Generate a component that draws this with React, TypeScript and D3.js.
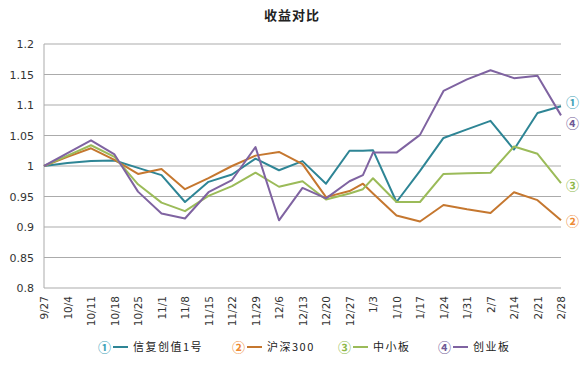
import React from "react";
import * as d3 from "d3";

const dates = [
  "2012-09-27", "2012-10-04", "2012-10-11", "2012-10-18", "2012-10-25", "2012-11-01",
  "2012-11-08", "2012-11-15", "2012-11-22", "2012-11-29", "2012-12-06", "2012-12-13",
  "2012-12-20", "2012-12-27", "2012-12-31", "2013-01-03", "2013-01-10", "2013-01-17",
  "2013-01-24", "2013-01-31", "2013-02-07", "2013-02-14", "2013-02-21", "2013-02-28",
];
const tickDates = dates.filter((d) => d !== "2012-12-31");
const tickLabels = [
  "9/27", "10/4", "10/11", "10/18", "10/25", "11/1", "11/8", "11/15", "11/22", "11/29",
  "12/6", "12/13", "12/20", "12/27", "1/3", "1/10", "1/17", "1/24", "1/31", "2/7",
  "2/14", "2/21", "2/28",
];
const yTicks = [0.8, 0.85, 0.9, 0.95, 1, 1.05, 1.1, 1.15, 1.2];

const xinfu = [1.0, 1.005, 1.008, 1.009, 0.997, 0.985, 0.941, 0.974, 0.986, 1.012, 0.993, 1.008,
  0.971, 1.025, 1.025, 1.026, 0.941, 0.992, 1.046, 1.06, 1.074, 1.027, 1.087, 1.098];
const hs300 = [1.0, 1.015, 1.029, 1.01, 0.987, 0.995, 0.962, 0.98, 1.0, 1.017, 1.023, 1.003,
  0.949, 0.959, 0.971, 0.955, 0.919, 0.909, 0.936, 0.929, 0.923, 0.957, 0.944, 0.911];
const zxb = [1.0, 1.017, 1.034, 1.015, 0.97, 0.94, 0.926, 0.951, 0.967, 0.989, 0.966, 0.975,
  0.945, 0.955, 0.962, 0.98, 0.941, 0.941, 0.987, 0.988, 0.989, 1.032, 1.02, 0.972];
const cyb = [1.0, 1.021, 1.042, 1.019, 0.958, 0.922, 0.914, 0.957, 0.977, 1.031, 0.911, 0.964,
  0.947, 0.975, 0.985, 1.022, 1.022, 1.051, 1.123, 1.142, 1.157, 1.144, 1.148, 1.083];

const seriesNames = ["信复创值1号", "沪深300", "中小板", "创业板"];
const seriesMarks = ["①", "②", "③", "④"];
const seriesValues = [xinfu, hs300, zxb, cyb];
const lineColors = ["#2E8595", "#C5772F", "#9BBB59", "#7F63A1"];
const markColors = ["#3FA3B8", "#EE8A35", "#8DB84A", "#6F5A96"];
const endOffsets = [-3, 2, 3, 9];
const legendX = [98, 232, 338, 438];

const W = 584, H = 366;
const M = { left: 44, right: 23, top: 44, bottom: 78 };

export default function App() {
  const parse = (s: string) => new Date(s + "T00:00:00Z");
  const x = d3.scaleUtc()
    .domain([parse(dates[0]), parse(dates[dates.length - 1])])
    .range([M.left, W - M.right]);
  const y = d3.scaleLinear().domain([0.8, 1.2]).range([H - M.bottom, M.top]);
  const line = d3.line<[Date, number]>().x((d) => x(d[0])).y((d) => y(d[1]));
  const num = "'DejaVu Sans', Verdana, sans-serif";
  const cjk = "'Noto Sans CJK SC', sans-serif";

  return (
    <svg width={W} height={H} style={{ display: "block", position: "absolute", left: 0, top: 0, background: "#fff" }}>
      <text x={292} y={20} textAnchor="middle" fontFamily={cjk} fontWeight="bold" fontSize={13} letterSpacing={1} fill="#222">收益对比</text>
      {yTicks.map((t) => (
        <g key={t}>
          <line x1={M.left} x2={W - M.right} y1={y(t)} y2={y(t)} stroke="#ABABAB" strokeWidth={1} />
          <text x={M.left - 10} y={y(t) + 4} textAnchor="end" fontFamily={num} fontSize={11} fill="#333">{String(t)}</text>
        </g>
      ))}
      <line x1={M.left} x2={M.left} y1={y(1.2)} y2={y(0.8)} stroke="#ABABAB" strokeWidth={1} />
      {tickDates.map((d, i) => (
        <text key={d} transform={`translate(${x(parse(d)) + 4},${H - M.bottom + 8}) rotate(-90)`}
          textAnchor="end" fontFamily={num} fontSize={10.5} fill="#333">{tickLabels[i]}</text>
      ))}
      {seriesValues.map((vals, si) => (
        <path key={si} d={line(vals.map((v, i) => [parse(dates[i]), v] as [Date, number])) || ""}
          fill="none" stroke={lineColors[si]} strokeWidth={2} strokeLinejoin="round" />
      ))}
      {seriesValues.map((vals, si) => (
        <text key={"e" + si} x={566} y={y(vals[vals.length - 1]) + endOffsets[si] + 4}
          fontFamily={cjk} fontWeight="bold" fontSize={13} fill={markColors[si]}>{seriesMarks[si]}</text>
      ))}
      {seriesNames.map((name, si) => (
        <g key={name} transform={`translate(${legendX[si]},347)`}>
          <text x={0} y={4.5} fontFamily={cjk} fontWeight="bold" fontSize={13} fill={markColors[si]}>{seriesMarks[si]}</text>
          <line x1={15} x2={30} y1={0} y2={0} stroke={lineColors[si]} strokeWidth={2} />
          <text x={35} y={4} fontFamily={cjk} fontSize={11} letterSpacing={1.5} fill="#222">{name}</text>
        </g>
      ))}
    </svg>
  );
}
